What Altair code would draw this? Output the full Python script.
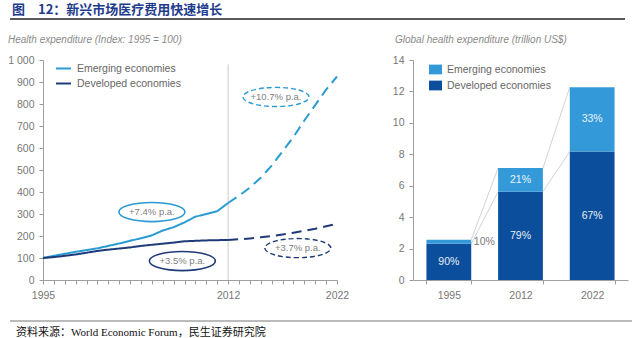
import altair as alt
import pandas as pd

FONT = "Liberation Sans"
CJK = "Noto Sans CJK SC"

HEADER = "图　12：新兴市场医疗费用快速增长"
LEFT_TITLE = "Health expenditure (Index: 1995 = 100)"
RIGHT_TITLE = "Global health expenditure (trillion US$)"
SOURCE = "资料来源：World Economic Forum，民生证券研究院"

SERIES = ["Emerging economies", "Developed economies"]
PHASES = ["actual", "projection"]

# Left panel: index 1995 = 100
YEARS_ACTUAL = list(range(1995, 2013))
EMERGING_ACTUAL = [100, 110, 119, 128, 136, 144, 155, 166, 178, 190, 203, 225, 240, 262, 288, 300, 313, 350]
DEVELOPED_ACTUAL = [100, 104, 110, 116, 124, 132, 138, 143, 148, 155, 160, 165, 170, 176, 178, 180, 181, 182]
YEARS_PROJ = list(range(2012, 2023))
EMERGING_PROJ = [350, 383, 420, 465, 520, 585, 650, 725, 795, 865, 925]
DEVELOPED_PROJ = [182, 185, 189, 194, 200, 207, 215, 224, 233, 244, 255]

X_LABEL_YEARS = [1995, 2012, 2022]
Y_TICKS_LEFT = [0, 100, 200, 300, 400, 500, 600, 700, 800, 900, 1000]
PROJ_START = 2012
PROJ_LINE_TOP = 980

ANNOT_TEXT = ["+7.4% p.a.", "+3.5% p.a.", "+10.7% p.a.", "+3.7% p.a."]
ANNOT_YEAR = [2005.0, 2007.8, 2016.4, 2018.4]
ANNOT_VALUE = [309, 86, 832, 145]
ANNOT_SERIES = [SERIES[0], SERIES[1], SERIES[0], SERIES[1]]
ANNOT_PHASE = ["actual", "actual", "projection", "projection"]

# Right panel: trillion US$
BAR_YEARS = ["1995", "2012", "2022"]
DEVELOPED_TN = [2.30, 5.62, 8.17]
EMERGING_TN = [0.26, 1.50, 4.10]
DEVELOPED_SHARE = ["90%", "79%", "67%"]
EMERGING_SHARE = ["10%", "21%", "33%"]
Y_TICKS_RIGHT = [0, 2, 4, 6, 8, 10, 12, 14]

# ---------- tables ----------
rows = []
for y, v in zip(YEARS_ACTUAL, EMERGING_ACTUAL):
    rows.append({"year": y, "value": v, "series": SERIES[0], "phase": "actual"})
for y, v in zip(YEARS_ACTUAL, DEVELOPED_ACTUAL):
    rows.append({"year": y, "value": v, "series": SERIES[1], "phase": "actual"})
for y, v in zip(YEARS_PROJ, EMERGING_PROJ):
    rows.append({"year": y, "value": v, "series": SERIES[0], "phase": "projection"})
for y, v in zip(YEARS_PROJ, DEVELOPED_PROJ):
    rows.append({"year": y, "value": v, "series": SERIES[1], "phase": "projection"})
line_df = pd.DataFrame(rows)

annot_df = pd.DataFrame({"label": ANNOT_TEXT, "year": ANNOT_YEAR, "value": ANNOT_VALUE,
                         "series": ANNOT_SERIES, "phase": ANNOT_PHASE})

bar_rows = []
for i, yr in enumerate(BAR_YEARS):
    bar_rows.append({"year": yr, "series": SERIES[1], "value": DEVELOPED_TN[i], "share": DEVELOPED_SHARE[i], "ord": 0})
    bar_rows.append({"year": yr, "series": SERIES[0], "value": EMERGING_TN[i], "share": EMERGING_SHARE[i], "ord": 1})
bar_df = pd.DataFrame(bar_rows)

conn_rows = []
for i in range(len(BAR_YEARS) - 1):
    t0 = DEVELOPED_TN[i] + EMERGING_TN[i]
    t1 = DEVELOPED_TN[i + 1] + EMERGING_TN[i + 1]
    conn_rows.append({"year": BAR_YEARS[i], "to": BAR_YEARS[i + 1], "value": t0, "v1": t1})
    conn_rows.append({"year": BAR_YEARS[i], "to": BAR_YEARS[i + 1], "value": DEVELOPED_TN[i], "v1": DEVELOPED_TN[i + 1]})
conn_df = pd.DataFrame(conn_rows)

one = pd.DataFrame({"a": [0]})

TICK_STYLE = dict(ticks=True, tickSize=4, tickColor="#9a9a9a", tickWidth=1)

# ---------- left panel ----------
X_AXIS_L = alt.Axis(values=list(range(1995, 2023)), format="d", title=None,
                    labelExpr="indexof(" + str(X_LABEL_YEARS) + ", datum.value) >= 0 ? datum.label : ''",
                    labelFlush=False, labelOverlap=False, labelPadding=6, **TICK_STYLE)
Y_AXIS_L = alt.Axis(values=Y_TICKS_LEFT, format="d", title=None,
                    labelExpr="replace(format(datum.value, ','), ',', ' ')", labelFlush=False, labelPadding=5,
                    **TICK_STYLE)
X_SCALE_L = alt.Scale(domain=[1995, 2022], nice=False, zero=False)
Y_SCALE_L = alt.Scale(domain=[0, 1000], nice=False)


def xl(field="year"):
    return alt.X(field + ":Q", scale=X_SCALE_L, axis=X_AXIS_L)


def yl(field="value"):
    return alt.Y(field + ":Q", scale=Y_SCALE_L, axis=Y_AXIS_L)


color_left = alt.Scale(domain=SERIES, range=["#2b9bd3", "#1f3a78"])
LEGEND_L = alt.Legend(title=None, orient="none", legendX=12, legendY=0,
                      symbolType="stroke", symbolSize=225, symbolStrokeWidth=2,
                      labelFont=FONT, labelFontSize=10.5, labelColor="#666",
                      rowPadding=1, padding=0, labelOffset=5)

lines = alt.Chart(line_df).mark_line(strokeWidth=2).encode(
    x=xl(), y=yl(),
    color=alt.Color("series:N", scale=color_left, legend=LEGEND_L),
    strokeDash=alt.StrokeDash("phase:N", scale=alt.Scale(domain=PHASES, range=[[1, 0], [10, 6]]), legend=None),
    order="year:Q",
)

proj_rule = alt.Chart(pd.DataFrame({"year": [PROJ_START], "value": [0], "top": [PROJ_LINE_TOP]})).mark_rule(
    color="#c9c9d6", strokeWidth=1).encode(x=xl(), y=yl(), y2="top:Q")

ELLIPSE = "M -1 0 A 1 0.29 0 1 0 1 0 A 1 0.29 0 1 0 -1 0 Z"
ell_solid = alt.Chart(annot_df).transform_filter("datum.phase == 'actual'").mark_point(
    shape=ELLIPSE, size=4356, filled=False, strokeWidth=1.6, opacity=1).encode(
    x=xl(), y=yl(), color=alt.Color("series:N", scale=color_left, legend=LEGEND_L))
ell_dash = alt.Chart(annot_df).transform_filter("datum.phase == 'projection'").mark_point(
    shape=ELLIPSE, size=4356, filled=False, strokeWidth=1.4, strokeDash=[5, 3], opacity=1).encode(
    x=xl(), y=yl(), color=alt.Color("series:N", scale=color_left, legend=LEGEND_L))
ell_text = alt.Chart(annot_df).mark_text(font=FONT, fontSize=9.5, color="#808080").encode(
    x=xl(), y=yl(), text="label:N")


def label_text(txt, x, y, **kw):
    return alt.Chart(pd.DataFrame({"t": [txt]})).mark_text(**kw).encode(
        x=alt.value(x), y=alt.value(y), text="t:N")


header = label_text(HEADER, -31, -50, font=CJK, fontSize=13, fontWeight="bold",
                    color="#1e3c8c", align="left", baseline="middle")
header_rule = alt.Chart(one).mark_rule(color="#222", strokeWidth=1.3).encode(
    x=alt.value(-33), x2=alt.value(582), y=alt.value(-41))
left_title = label_text(LEFT_TITLE, -35, -20, font=FONT, fontSize=10, fontStyle="italic",
                        color="#8a8a8a", align="left", baseline="middle")
footer_rule = alt.Chart(one).mark_rule(color="#777", strokeWidth=1).encode(
    x=alt.value(-33), x2=alt.value(589), y=alt.value(261))
footer = label_text(SOURCE, -27, 273, font="Liberation Serif, " + CJK, fontSize=11,
                    color="#111", align="left", baseline="middle")
frame = alt.Chart(one).mark_rect(opacity=0).encode(
    x=alt.value(-43), x2=alt.value(597), y=alt.value(-60), y2=alt.value(278))

left = alt.layer(proj_rule, lines, ell_solid, ell_dash, ell_text,
                 header, header_rule, left_title, footer_rule, footer, frame).properties(width=294, height=220)

# ---------- right panel ----------
X_SCALE_R = alt.Scale(domain=BAR_YEARS, paddingInner=0.375, paddingOuter=0.1875)
X_AXIS_R = alt.Axis(title=None, labelAngle=0, tickBand="extent", labelPadding=6, **TICK_STYLE)
Y_SCALE_R = alt.Scale(domain=[0, 14], nice=False)
Y_AXIS_R = alt.Axis(values=Y_TICKS_RIGHT, title=None, labelFlush=False, labelPadding=5, **TICK_STYLE)


def xr(**kw):
    return alt.X("year:N", scale=X_SCALE_R, axis=X_AXIS_R, **kw)


def yr(field="value", **kw):
    return alt.Y(field + ":Q", scale=Y_SCALE_R, axis=Y_AXIS_R, **kw)


color_right = alt.Scale(domain=SERIES, range=["#3399d8", "#0b4f9c"])

conn = alt.Chart(conn_df).mark_rule(color="#c6c6c6", strokeWidth=0.8).encode(
    x=xr(bandPosition=1),
    x2=alt.X2(field="to", bandPosition=0),
    y=yr(), y2="v1:Q")

bars = alt.Chart(bar_df).mark_bar().encode(
    x=xr(), y=yr(stack="zero"),
    color=alt.Color("series:N", scale=color_right,
                    legend=alt.Legend(title=None, orient="none", legendX=16, legendY=3,
                                      symbolType="M -1 -0.75 H 1 V 0.75 H -1 Z", symbolSize=169,
                                      symbolStrokeWidth=0, symbolOpacity=1,
                                      labelFont=FONT, labelFontSize=10.5, labelColor="#666",
                                      rowPadding=4, padding=0, labelOffset=5)),
    order=alt.Order("ord:Q"))

stacked = alt.Chart(bar_df).transform_stack(
    stack="value", groupby=["year"], sort=[alt.SortField("ord", order="ascending")], as_=["s0", "s1"]
).transform_calculate(mid="(datum.s0 + datum.s1) / 2")
inside = stacked.transform_filter("datum.value >= 0.5").mark_text(
    font=FONT, fontSize=10.5, color="#ffffff", opacity=0.9).encode(
    x=xr(), y=yr("mid"), text="share:N")
outside = stacked.transform_filter("datum.value < 0.5").mark_text(
    font=FONT, fontSize=10.5, color="#777", align="left", dx=25).encode(
    x=xr(), y=yr("mid"), text="share:N")

right_title = label_text(RIGHT_TITLE, -18, -20, font=FONT, fontSize=10, fontStyle="italic",
                         color="#8a8a8a", align="left", baseline="middle")

right = alt.layer(conn, bars, inside, outside, right_title).properties(width=215, height=220)

chart = alt.hconcat(left, right, spacing=76, bounds="flush").resolve_scale(
    color="independent").resolve_legend(color="independent").properties(
    padding=0, background="white"
).configure_view(stroke=None).configure_axis(
    grid=False, domainColor="#a0a0a0", labelColor="#777",
    labelFont=FONT, labelFontSize=10.5, domainWidth=1)

chart.save("out.html", embed_options={"renderer": "svg", "actions": False})
